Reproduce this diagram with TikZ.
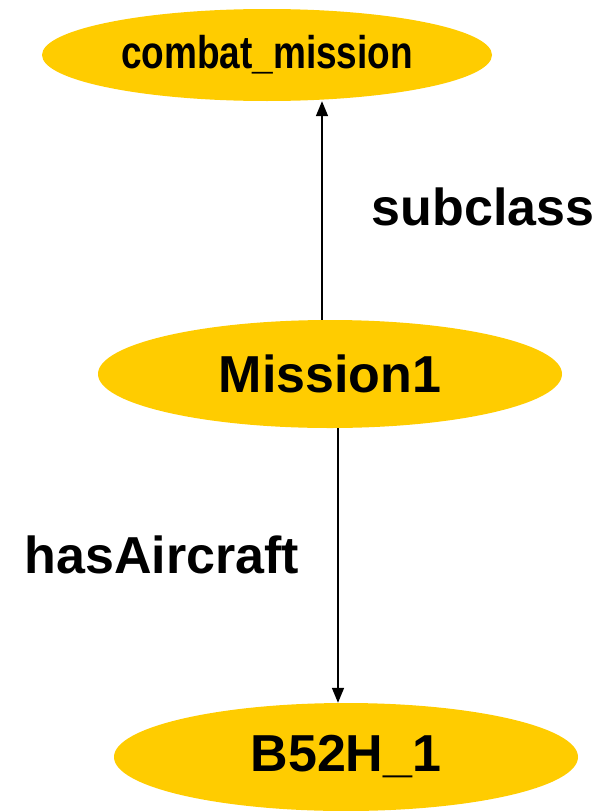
\documentclass[tikz,border=0pt]{standalone}
\usepackage{fontspec}
\setmainfont{Liberation Sans}
\usepackage{tikz}
\usetikzlibrary{shapes}
\usetikzlibrary{arrows.meta}
\usepackage{xcolor}
\definecolor{gold}{HTML}{FFCC00}

\begin{document}
\begin{tikzpicture}[x=1pt,y=-1pt,
  cls/.style={ellipse, fill=gold, inner sep=0pt, font=\bfseries},
  arr/.style={-{Triangle[length=15pt,width=12pt]}, line width=1.6pt}]
\useasboundingbox (0,0) rectangle (613,811);
\node[cls, minimum width=450, minimum height=92, font=\bfseries\fontsize{37}{40}\selectfont] (combat) at (267,55) {\scalebox{1}[1.24]{combat\_mission}};
\node[cls, minimum width=464, minimum height=108, font=\bfseries\fontsize{52}{56}\selectfont] (mission) at (330,374) {Mission1};
\node[cls, minimum width=464, minimum height=108, font=\bfseries\fontsize{52}{56}\selectfont] (b52) at (346,757) {B52H\_1};
\coordinate (up) at ([xshift=-8pt]mission.north);
\draw[arr] (up) -- (up |- combat.south);
\draw[arr] ([xshift=8pt]mission.south) -- ([xshift=-8pt]b52.north);
\node[font=\bfseries\fontsize{52}{56}\selectfont] (sub) at (483,207) {subclass};
\node[font=\bfseries\fontsize{52}{56}\selectfont] (has) at (162,555) {hasAircraft};
\end{tikzpicture}
\end{document}
